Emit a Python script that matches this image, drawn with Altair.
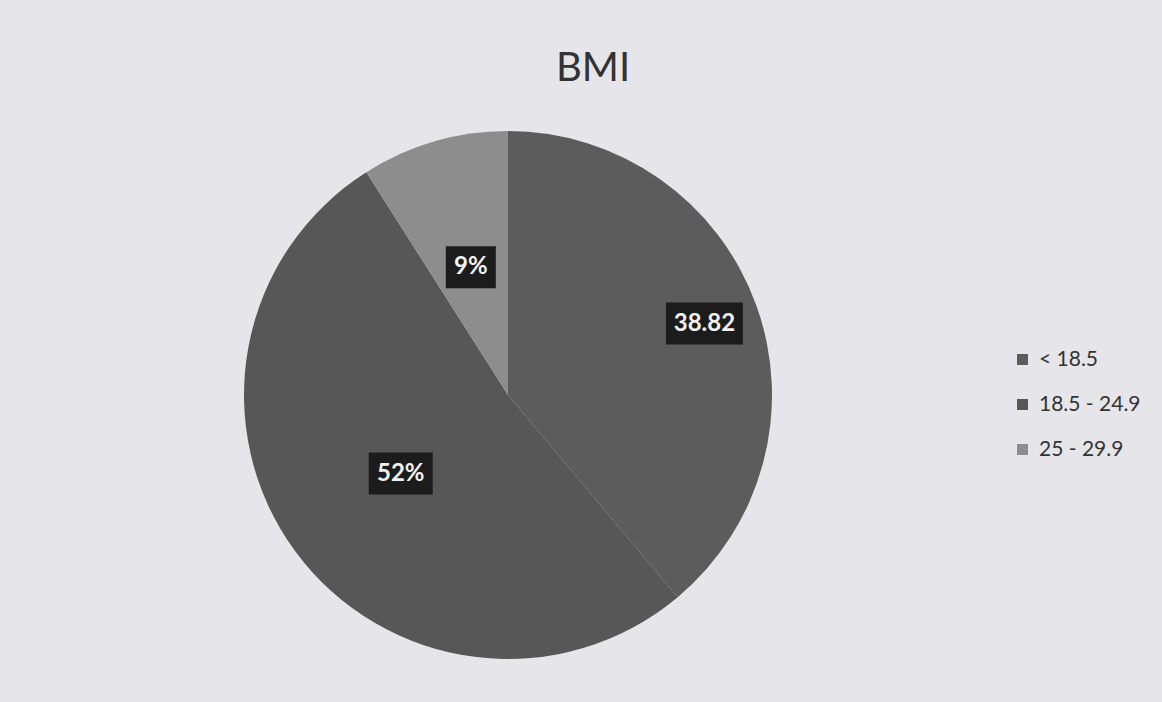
import altair as alt
import pandas as pd

categories = ["< 18.5", "18.5 - 24.9", "25 - 29.9"]
values = [38.82, 52, 9]
labels = ["38.82", "52%", "9%"]
colors = ["#5c5c5c", "#575757", "#8d8d8d"]

df = pd.DataFrame({"idx": list(range(len(categories))), "cat": categories,
                   "value": values, "label": labels})

CX, CY, R = 508, 395, 264

base = alt.Chart(df)

pie = base.mark_arc(radius=R, strokeWidth=0).encode(
    theta=alt.Theta("value:Q", stack=True),
    order=alt.Order("idx:Q"),
    x=alt.value(CX),
    y=alt.value(CY),
    color=alt.Color("cat:N",
                    scale=alt.Scale(domain=categories, range=colors),
                    legend=alt.Legend(orient="none", legendX=1012, legendY=349,
                                      title=None, symbolType="square", symbolSize=121,
                                      symbolStrokeWidth=0, labelFont="Lato",
                                      labelFontSize=21, labelColor="#333333",
                                      labelOffset=6, rowPadding=23)),
)

lab = base.transform_window(
    cum="sum(value)", sort=[alt.SortField("idx")], frame=[None, 0]
).transform_joinaggregate(
    total="sum(value)"
).transform_calculate(
    mid="(datum.cum - datum.value/2) / datum.total * 2 * PI",
    rr="datum.idx == 0 ? 209 : 133",
    bw="[77, 64, 50][datum.idx]",
).transform_calculate(
    lx=f"{CX} + datum.rr * sin(datum.mid)",
    ly=f"{CY} - datum.rr * cos(datum.mid)",
).transform_calculate(
    bx0="datum.lx - datum.bw/2",
    bx1="datum.lx + datum.bw/2",
    by0="datum.ly - 21",
    by1="datum.ly + 21",
)

boxes = lab.mark_rect(color="#1c1c1c").encode(
    x=alt.X("bx0:Q", scale=None), x2="bx1:Q",
    y=alt.Y("by0:Q", scale=None), y2="by1:Q",
)

texts = lab.mark_text(font="Lato", fontWeight="bold", fontSize=24, color="#f2f2f2",
                      align="center", baseline="middle").encode(
    x=alt.X("lx:Q", scale=None),
    y=alt.Y("ly:Q", scale=None),
    text="label:N",
)

title = alt.Chart(pd.DataFrame({"t": ["BMI"]})).mark_text(
    font="Lato", fontSize=40, color="#333333", align="center", baseline="middle"
).encode(x=alt.value(593), y=alt.value(69), text="t:N")

chart = alt.layer(pie, boxes, texts, title).properties(
    width=1162, height=702,
    autosize=alt.AutoSizeParams(type="none"),
    padding=0,
    background="#e6e5ea",
).configure_view(stroke=None)

chart.save("out.html", embed_options={"renderer": "svg", "actions": False})
